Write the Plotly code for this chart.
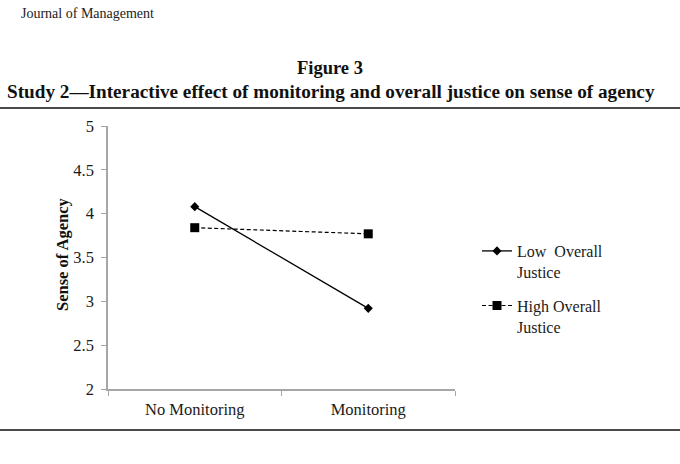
import plotly.graph_objects as go

conditions = ['No Monitoring', 'Monitoring']
low_justice = [4.08, 2.92]
high_justice = [3.84, 3.77]
y_ticks = [2, 2.5, 3, 3.5, 4, 4.5, 5]

W, H = 680, 464
L, R, T, B = 108, 225, 126, 75

# helpers to place page furniture using pixel positions
def px_x(x):
    return (x - L) / (W - L - R)

def px_y(y):
    return (H - B - y) / (H - T - B)

serif = 'Liberation Serif, Times New Roman, serif'
axis_grey = '#a6a6a6'

fig = go.Figure()
fig.add_trace(go.Scatter(
    x=conditions, y=low_justice, name='Low  Overall<br>Justice',
    mode='lines+markers',
    line=dict(color='black', width=1.3),
    marker=dict(symbol='diamond', size=7, color='black'),
    legendgroup='a'
))
fig.add_trace(go.Scatter(
    x=conditions, y=high_justice, name='High Overall<br>Justice',
    mode='lines+markers',
    line=dict(color='black', width=1.2, dash='4px,2.5px'),
    marker=dict(symbol='square', size=9, color='black'),
    legendgroup='b'
))

fig.update_xaxes(
    type='category', range=[-0.5, 1.5], tickson='boundaries',
    showline=True, linecolor=axis_grey, linewidth=1.5,
    ticks='outside', ticklen=5, tickcolor=axis_grey,
    showgrid=False, zeroline=False, ticklabelstandoff=4,
    tickfont=dict(family=serif, size=16.5, color='#1a1a1a')
)
fig.update_yaxes(
    range=[2, 5], tickvals=y_ticks, ticktext=[f'{v:g}' for v in y_ticks],
    showline=True, linecolor=axis_grey, linewidth=1.5,
    ticks='outside', ticklen=5, tickcolor=axis_grey,
    showgrid=False, zeroline=False, ticklabelstandoff=4,
    tickfont=dict(family=serif, size=16.5, color='#1a1a1a')
)

fig.update_layout(
    width=W, height=H,
    margin=dict(l=L, r=R, t=T, b=B),
    paper_bgcolor='white', plot_bgcolor='white',
    font=dict(family=serif, color='#111'),
    showlegend=True,
    legend=dict(
        x=px_x(477), y=px_y(234), xanchor='left', yanchor='top',
        font=dict(family=serif, size=16, color='#1a1a1a'),
        valign='top', tracegroupgap=10, itemwidth=30,
        bgcolor='rgba(0,0,0,0)'
    ),
    annotations=[
        dict(text='Journal of Management', x=px_x(19), y=px_y(13),
             xref='paper', yref='paper', xanchor='left', yanchor='middle',
             showarrow=False, font=dict(family=serif, size=14, color='#222')),
        dict(text='<b>Figure 3</b>', x=px_x(330), y=px_y(68),
             xref='paper', yref='paper', xanchor='center', yanchor='middle',
             showarrow=False, font=dict(family=serif, size=18.5, color='#111')),
        dict(text='<b>Study 2\u2014Interactive effect of monitoring and overall justice on sense of agency</b>',
             x=px_x(331), y=px_y(91),
             xref='paper', yref='paper', xanchor='center', yanchor='middle',
             showarrow=False, font=dict(family=serif, size=19.2, color='#111')),
        dict(text='<b>Sense of Agency</b>', x=px_x(62), y=px_y(255),
             xref='paper', yref='paper', xanchor='center', yanchor='middle',
             textangle=-90, showarrow=False,
             font=dict(family=serif, size=16.5, color='#111')),
    ],
    shapes=[
        dict(type='line', xref='paper', yref='paper',
             x0=px_x(0), x1=px_x(680), y0=px_y(108), y1=px_y(108),
             line=dict(color='#4a4a4a', width=2)),
        dict(type='line', xref='paper', yref='paper',
             x0=px_x(0), x1=px_x(680), y0=px_y(430), y1=px_y(430),
             line=dict(color='#4a4a4a', width=2)),
    ]
)

fig.write_html('out.html', config={'displayModeBar': False},
               post_script="document.body.style.margin='0';")
